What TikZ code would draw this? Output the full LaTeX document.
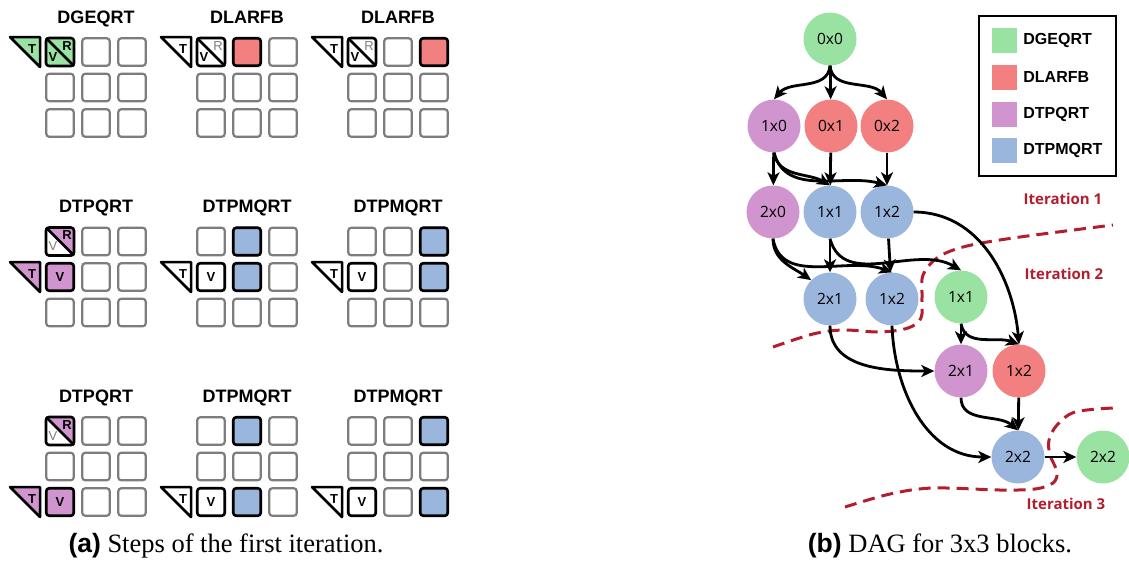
\documentclass[tikz,border=0pt]{standalone}
\usepackage{fontspec}
\setmainfont{Liberation Serif}
\setsansfont{Liberation Sans}
\newfontfamily\dagfont{Open Sans}
\usetikzlibrary{positioning,arrows.meta}

\definecolor{geqrt}{RGB}{153,226,161}
\definecolor{larfb}{RGB}{242,128,128}
\definecolor{tpqrt}{RGB}{208,148,206}
\definecolor{tpmqrt}{RGB}{155,182,220}
\definecolor{itred}{RGB}{178,30,45}
\definecolor{cellgray}{RGB}{125,125,125}

% T triangle to the left of a tile
\newcommand{\tmark}[3]{%
  \begin{scope}[shift={(#2)}]
    \draw[tri,fill=#3] (-50,-15) -- (-20,-15) -- (-20,15) -- cycle;
    \node[tl] (#1) at (-28,-3) {T};
  \end{scope}}

% tile split along its diagonal: V below, R above
\newcommand{\vrbox}[5]{%
  \begin{scope}[shift={(#1)}]
    \begin{scope}
      \clip[rounded corners=3pt] (-14,-14) rectangle (14,14);
      \fill[#2] (-14,-14) -- (-14,14) -- (14,14) -- cycle;
      \fill[#3] (-14,-14) -- (14,-14) -- (14,14) -- cycle;
    \end{scope}
    \draw[hotline,rounded corners=3pt] (-14,-14) rectangle (14,14);
    \draw[hotline] (-14,-14) -- (14,14);
    \node[#4] (#1v) at (-7,5) {V};
    \node[#5] (#1r) at (7,-6) {R};
  \end{scope}}

\begin{document}
\begin{tikzpicture}[x=1pt,y=-1pt,
  cell/.style={draw=cellgray,line width=2.2pt,rounded corners=3pt,minimum size=27.5pt,inner sep=0pt},
  hot/.style={cell,draw=black,line width=2.6pt,font=\sffamily\bfseries\fontsize{13}{14}\selectfont},
  hotline/.style={line width=2.6pt,line join=round},
  tri/.style={draw=black,line width=2.5pt,line join=round},
  tl/.style={font=\sffamily\bfseries\fontsize{13}{14}\selectfont,inner sep=0pt},
  tlg/.style={font=\sffamily\fontsize{13}{14}\selectfont,text=cellgray,inner sep=0pt},
  ttl/.style={font=\sffamily\bfseries\fontsize{18}{20}\selectfont,anchor=base},
  task/.style={circle,minimum size=53pt,inner sep=0pt,font=\dagfont\fontsize{15.5}{16}\selectfont},
  lk/.style={-{Stealth[length=13pt,width=12pt,inset=3.5pt]},line width=2.8pt},
  iter/.style={font=\dagfont\bfseries\fontsize{15}{16}\selectfont,text=itred},
  itercut/.style={draw=itred,line width=3pt,dash pattern=on 12pt off 7pt},
  sw/.style={minimum size=25pt,inner sep=0pt},
  lgt/.style={font=\sffamily\bfseries\fontsize{16}{18}\selectfont,inner sep=0pt}]
\useasboundingbox (0,0) rectangle (1129,568);

% --- left: nine 3x3 tile grids ---
\foreach \k in {0,1,2}
  \foreach \g in {0,1,2}
    \foreach \c in {0,1,2}
      \foreach \r in {0,1,2}
        \node[cell] (b\k\g\c\r) at ({60+151*\g+36*\c},{52+189.5*\k+35.5*\r}) {};

\foreach \k/\g/\name in {0/0/DGEQRT,0/1/DLARFB,0/2/DLARFB,
    1/0/DTPQRT,1/1/DTPMQRT,1/2/DTPMQRT,2/0/DTPQRT,2/1/DTPMQRT,2/2/DTPMQRT}
  \node[ttl] (ttl\k\g) at ({96+151*\g},{23+189.5*\k}) {\name};

% first row of steps
\tmark{t00}{b0000}{geqrt}
\vrbox{b0000}{geqrt}{geqrt}{tl}{tl}
\tmark{t01}{b0100}{white}
\vrbox{b0100}{white}{white}{tl}{tlg}
\node[hot,fill=larfb] (h01) at (b0110) {};
\tmark{t02}{b0200}{white}
\vrbox{b0200}{white}{white}{tl}{tlg}
\node[hot,fill=larfb] (h02) at (b0220) {};

% second row
\vrbox{b1000}{white}{tpqrt}{tlg}{tl}
\node[hot,fill=tpqrt] (v10) at (b1001) {V};
\tmark{t10}{b1001}{tpqrt}
\node[hot,fill=white] (v11) at (b1101) {V};
\tmark{t11}{b1101}{white}
\node[hot,fill=tpmqrt] (h11a) at (b1110) {};
\node[hot,fill=tpmqrt] (h11b) at (b1111) {};
\node[hot,fill=white] (v12) at (b1201) {V};
\tmark{t12}{b1201}{white}
\node[hot,fill=tpmqrt] (h12a) at (b1220) {};
\node[hot,fill=tpmqrt] (h12b) at (b1221) {};

% third row
\vrbox{b2000}{white}{tpqrt}{tlg}{tl}
\node[hot,fill=tpqrt] (v20) at (b2002) {V};
\tmark{t20}{b2002}{tpqrt}
\node[hot,fill=white] (v21) at (b2102) {V};
\tmark{t21}{b2102}{white}
\node[hot,fill=tpmqrt] (h21a) at (b2110) {};
\node[hot,fill=tpmqrt] (h21b) at (b2112) {};
\node[hot,fill=white] (v22) at (b2202) {V};
\tmark{t22}{b2202}{white}
\node[hot,fill=tpmqrt] (h22a) at (b2220) {};
\node[hot,fill=tpmqrt] (h22b) at (b2222) {};

\node[anchor=base] (capa) at (226,552)
  {\fontsize{26.5}{28}\selectfont{\sffamily\bfseries (a)} Steps of the first iteration.};

% --- right: task graph ---
\draw[itercut] plot[smooth,tension=0.55] coordinates {(773,347) (813,334) (843,330)
  (880,332) (908,328) (921,318) (922,297) (923,275) (937,258) (963,247) (1013,238) (1113,225)};
\draw[itercut] plot[smooth,tension=0.55] coordinates {(845,507) (890,494) (933,488)
  (1000,490) (1035,489) (1053,483) (1057,472) (1050,455) (1049,440) (1057,425) (1075,412) (1113,408)};

\node[task,fill=geqrt]  (n00)  at (830,39)   {0x0};
\node[task,fill=tpqrt]  (n10)  at (774,126)  {1x0};
\node[task,fill=larfb]  (n01)  at (831,126)  {0x1};
\node[task,fill=larfb]  (n02)  at (887,126)  {0x2};
\node[task,fill=tpqrt]  (n20)  at (773,212)  {2x0};
\node[task,fill=tpmqrt] (n11)  at (830,212)  {1x1};
\node[task,fill=tpmqrt] (n12)  at (887,212)  {1x2};
\node[task,fill=tpmqrt] (n21)  at (830,299)  {2x1};
\node[task,fill=tpmqrt] (n12b) at (892,299)  {1x2};
\node[task,fill=geqrt]  (n11g) at (961,297)  {1x1};
\node[task,fill=tpqrt]  (n21p) at (961,371)  {2x1};
\node[task,fill=larfb]  (n12r) at (1019,371) {1x2};
\node[task,fill=tpmqrt] (n22b) at (1018,457) {2x2};
\node[task,fill=geqrt]  (n22g) at (1103,457) {2x2};

\draw[lk] (n00.south) to[out=-95,in=50] (n10.north);
\draw[lk] (n00) -- (n01);
\draw[lk] (n00.south) to[out=-85,in=130] (n02.north);
\draw[lk] (n10) -- (n20);
\draw[lk] (n10.south) to[out=-80,in=150] (n11.north);
\draw[lk] (n10.south) to[out=-75,in=165] (n12.north);
\draw[lk] (n01) -- (n11);
\draw[lk] (n02) -- (n12);
\draw[lk] (n20.south) to[out=-90,in=145] (n21.north west);
\draw[lk] (n20.south) to[out=-80,in=160] (n12b.north);
\draw[lk] (n11) -- (n21);
\draw[lk] (n11.south) to[out=-75,in=150] (n11g.north);
\draw[lk] (n12) -- (n12b);
\draw[lk] (n12.east) to[out=0,in=95] (n12r.north);
\draw[lk] (n11g) -- (n21p);
\draw[lk] (n11g.south) to[out=-80,in=160] (n12r.north);
\draw[lk] (n21.south) to[out=-90,in=180] (n21p.west);
\draw[lk] (n12b.south) to[out=-88,in=180] (n22b.west);
\draw[lk] (n21p.south) to[out=-90,in=140] (n22b.north);
\draw[lk] (n12r) -- (n22b);
\draw[lk] (n22b) -- (n22g);

\node[iter] (it1) at (1063,199) {Iteration 1};
\node[iter] (it2) at (1064,274) {Iteration 2};
\node[iter] (it3) at (1066,504) {Iteration 3};

% legend
\node[draw,line width=2pt,minimum width=137pt,minimum height=160pt,inner sep=0pt] (legend) at (1047.5,96) {};
\node[sw,fill=geqrt]  (sw1) at (1004.5,40)  {};
\node[sw,fill=larfb]  (sw2) at (1004.5,77)  {};
\node[sw,fill=tpqrt]  (sw3) at (1004.5,114) {};
\node[sw,fill=tpmqrt] (sw4) at (1004.5,150) {};
\node[lgt,right=6pt of sw1] (lt1) {DGEQRT};
\node[lgt,right=6pt of sw2] (lt2) {DLARFB};
\node[lgt,right=6pt of sw3] (lt3) {DTPQRT};
\node[lgt,right=6pt of sw4] (lt4) {DTPMQRT};

\node[anchor=base] (capb) at (940,552)
  {\fontsize{26.5}{28}\selectfont{\sffamily\bfseries (b)} DAG for 3x3 blocks.};
\end{tikzpicture}
\end{document}
